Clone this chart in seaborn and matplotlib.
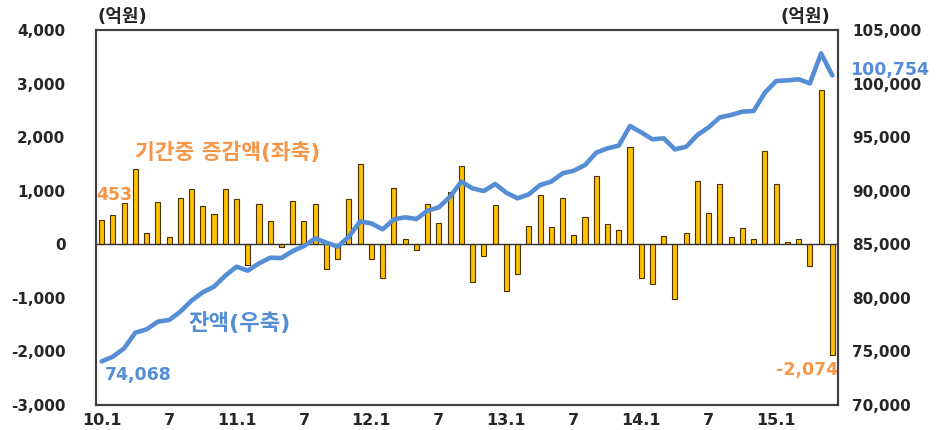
import numpy as np
import pandas as pd
import seaborn as sns
import matplotlib.pyplot as plt
from matplotlib.ticker import FuncFormatter

# monthly data, 2010.1 ~ 2015.6
months = [f"{y}.{m:02d}" for y in range(2010, 2016) for m in range(1, 13)][:66]

change = [453, 541, 772, 1400, 205, 784, 137, 859, 1027, 709, 560, 1033,
          846, -386, 759, 429, -44, 809, 429, 759, -454, -280, 840, 1493,
          -268, -635, 1045, 100, -112, 747, 392, 983, 1469, -703, -224, 728,
          -877, -560, 348, 921, 317, 859, 174, 504, 1269, 373, 261, 1817,
          -622, -734, 162, -1027, 212, 1176, 585, 1120, 131, 299, 93, 1742,
          1120, 37, 100, -411, 2881, -2074]

balance = [74068, 74510, 75290, 76750, 77060, 77780, 77930, 78710, 79740, 80520, 81050, 82070,
           82910, 82540, 83220, 83750, 83720, 84370, 84840, 85560, 85150, 84780, 85710, 87140,
           86950, 86400, 87330, 87520, 87360, 88140, 88450, 89450, 90850, 90220, 89970, 90630,
           89820, 89290, 89660, 90530, 90850, 91620, 91870, 92400, 93550, 93960, 94210, 96040,
           95450, 94800, 94890, 93860, 94110, 95200, 95920, 96850, 97070, 97380, 97440, 99150,
           100240, 100300, 100400, 100020, 102820, 100754]

tick_labels = ["10.1", "7", "11.1", "7", "12.1", "7", "13.1", "7", "14.1", "7", "15.1"]

orange = "#F79646"
blue = "#558ED5"

df = pd.DataFrame({"month": months, "change": change, "balance": balance, "pos": np.arange(len(months))})

sns.set_style("white")
plt.rcParams['font.family'] = ['DejaVu Sans', 'Noto Sans CJK KR']

fig = plt.figure(figsize=(9.39, 4.3), dpi=100)
ax = fig.add_axes([0.1022, 0.0581, 0.7902, 0.8721])

sns.barplot(data=df, x="month", y="change", ax=ax, color="#FFC000", saturation=1,
            width=0.45, edgecolor="#4a3000", linewidth=0.8)
ax.axhline(0, color="#333333", linewidth=1.0, zorder=3)
ax.set_ylim(-3000, 4000)
ax.set_yticks(range(-3000, 4001, 1000))
ax.yaxis.set_major_formatter(FuncFormatter(lambda v, p: f"{int(v):,}"))
ax.set_xticks(range(0, 66, 6))
ax.set_xticklabels(tick_labels)
ax.set_xlabel("")
ax.set_ylabel("")
ax.tick_params(axis="y", pad=22, length=0, labelsize=11)
ax.tick_params(axis="x", pad=6, length=0, labelsize=11.5)
for lab in ax.get_xticklabels() + ax.get_yticklabels():
    lab.set_fontweight("bold")

ax2 = ax.twinx()
sns.lineplot(data=df, x="pos", y="balance", ax=ax2, color=blue, linewidth=3.3)
ax2.set_ylim(70000, 105000)
ax2.set_yticks(range(70000, 105001, 5000))
ax2.yaxis.set_major_formatter(FuncFormatter(lambda v, p: f"{int(v):,}"))
ax2.set_xlabel("")
ax2.set_ylabel("")
ax2.tick_params(axis="y", pad=10, length=0, labelsize=11)
for lab in ax2.get_yticklabels():
    lab.set_fontweight("bold")
ax.set_xlim(-0.5, 65.5)

for a in (ax, ax2):
    for s in a.spines.values():
        s.set_color("#404040")
        s.set_linewidth(1.5)

# annotations
ax.text(-0.5, 914, "453", color=orange, fontsize=12.5, fontweight="bold", ha="left", va="center")
ax.text(11.2, 1716, "기간중 증감액(좌축)", color=orange, fontsize=15.5, fontweight="bold",
        ha="center", va="center")
ax.text(12.3, -1470, "잔액(우축)", color=blue, fontsize=16, fontweight="bold",
        ha="center", va="center")
ax.text(0.3, -2444, "74,068", color=blue, fontsize=12.5, fontweight="bold", ha="left", va="center")
ax.text(65.5, -2351, "-2,074", color=orange, fontsize=12.5, fontweight="bold", ha="right", va="center")
fig.text(0.905, 0.837, "100,754", color=blue, fontsize=12.5, fontweight="bold", ha="left", va="center")

fig.text(0.130, 0.960, "(억원)", fontsize=13, fontweight="bold", ha="center", va="center")
fig.text(0.858, 0.960, "(억원)", fontsize=13, fontweight="bold", ha="center", va="center")

fig.savefig("out.png", dpi=100)
